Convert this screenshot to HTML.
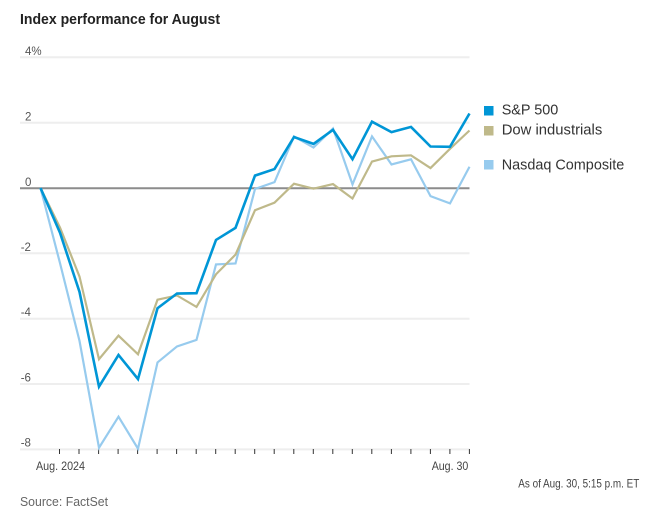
<!DOCTYPE html>
<html><head><meta charset="utf-8"><style>
html,body{margin:0;padding:0;background:#fff;}
svg{display:block;}
text{font-family:"Liberation Sans",sans-serif;}
</style></head><body>
<svg width="656" height="523" viewBox="0 0 656 523" xmlns="http://www.w3.org/2000/svg">
<text x="20" y="24" font-size="15" font-weight="bold" fill="#222" textLength="200" lengthAdjust="spacingAndGlyphs">Index performance for August</text>
<g stroke="#eeeeee" stroke-width="2">
<line x1="20" y1="57.3" x2="469.5" y2="57.3"/>
<line x1="20" y1="122.7" x2="469.5" y2="122.7"/>
<line x1="20" y1="253.3" x2="469.5" y2="253.3"/>
<line x1="20" y1="318.7" x2="469.5" y2="318.7"/>
<line x1="20" y1="384" x2="469.5" y2="384"/>
<line x1="20" y1="449.4" x2="469.5" y2="449.4"/>
</g>
<line x1="20" y1="188.3" x2="469.5" y2="188.3" stroke="#8c8c8c" stroke-width="2"/>
<g font-size="11.5" fill="#555">
<text x="25" y="55">4%</text>
<text x="25" y="120.7">2</text>
<text x="25" y="186">0</text>
<text x="20.7" y="251">-2</text>
<text x="20.7" y="316">-4</text>
<text x="20.7" y="381.5">-6</text>
<text x="20.7" y="446.5">-8</text>
</g>
<g stroke="#333" stroke-width="1">
<line x1="59.5" y1="449" x2="59.5" y2="454"/><line x1="79" y1="449" x2="79" y2="454"/><line x1="98.6" y1="449" x2="98.6" y2="454"/><line x1="118.1" y1="449" x2="118.1" y2="454"/><line x1="137.6" y1="449" x2="137.6" y2="454"/><line x1="157.1" y1="449" x2="157.1" y2="454"/><line x1="176.6" y1="449" x2="176.6" y2="454"/><line x1="196.2" y1="449" x2="196.2" y2="454"/><line x1="215.7" y1="449" x2="215.7" y2="454"/><line x1="235.2" y1="449" x2="235.2" y2="454"/><line x1="254.7" y1="449" x2="254.7" y2="454"/><line x1="274.2" y1="449" x2="274.2" y2="454"/><line x1="293.8" y1="449" x2="293.8" y2="454"/><line x1="313.3" y1="449" x2="313.3" y2="454"/><line x1="332.8" y1="449" x2="332.8" y2="454"/><line x1="352.3" y1="449" x2="352.3" y2="454"/><line x1="371.8" y1="449" x2="371.8" y2="454"/><line x1="391.4" y1="449" x2="391.4" y2="454"/><line x1="410.9" y1="449" x2="410.9" y2="454"/><line x1="430.4" y1="449" x2="430.4" y2="454"/><line x1="449.9" y1="449" x2="449.9" y2="454"/><line x1="469.4" y1="449" x2="469.4" y2="454"/>
</g>
<g transform="translate(40.5 188) scale(19.5 -32.67)" fill="none" stroke-linejoin="miter">
<polyline vector-effect="non-scaling-stroke" stroke="#97cbee" stroke-width="2.2" points="0,0 1,-2.30 2,-4.68 3,-7.95 4,-7.00 5,-7.98 6,-5.34 7,-4.85 8,-4.65 9,-2.34 10,-2.31 11,-0.03 12,0.18 13,1.58 14,1.24 15,1.82 16,0.11 17,1.58 18,0.72 19,0.88 20,-0.25 21,-0.47 22,0.65"/>
<polyline vector-effect="non-scaling-stroke" stroke="#bfb98a" stroke-width="2.2" points="0,0 1,-1.21 2,-2.71 3,-5.24 4,-4.52 5,-5.09 6,-3.42 7,-3.29 8,-3.64 9,-2.64 10,-2.04 11,-0.68 12,-0.45 13,0.13 14,-0.02 15,0.12 16,-0.32 17,0.81 18,0.97 19,1.00 20,0.61 21,1.20 22,1.76"/>
<polyline vector-effect="non-scaling-stroke" stroke="#0096d6" stroke-width="2.6" points="0,0 1,-1.37 2,-3.18 3,-6.08 4,-5.11 5,-5.85 6,-3.68 7,-3.23 8,-3.22 9,-1.59 10,-1.22 11,0.38 12,0.58 13,1.56 14,1.35 15,1.78 16,0.88 17,2.03 18,1.71 19,1.87 20,1.27 21,1.26 22,2.28"/>
</g>
<rect x="484" y="106" width="9.5" height="9.5" fill="#0096d6"/>
<rect x="484" y="126" width="9.5" height="9.5" fill="#bfb98a"/>
<rect x="484" y="160" width="9.5" height="9.5" fill="#97cbee"/>
<g font-size="15" fill="#333">
<text x="501.7" y="114.5" textLength="56.6" lengthAdjust="spacingAndGlyphs">S&amp;P 500</text>
<text x="501.7" y="134.3" textLength="100.6" lengthAdjust="spacingAndGlyphs">Dow industrials</text>
<text x="501.7" y="169.3" textLength="122.6" lengthAdjust="spacingAndGlyphs">Nasdaq Composite</text>
</g>
<g font-size="12" fill="#444">
<text x="36" y="470" textLength="49" lengthAdjust="spacingAndGlyphs">Aug. 2024</text>
<text x="431.7" y="470" textLength="36.6" lengthAdjust="spacingAndGlyphs">Aug. 30</text>
<text x="518.3" y="487.3" textLength="121" lengthAdjust="spacingAndGlyphs">As of Aug. 30, 5:15 p.m. ET</text>
</g>
<text x="20" y="506" font-size="13" fill="#666" textLength="88" lengthAdjust="spacingAndGlyphs">Source: FactSet</text>
</svg>
</body></html>
